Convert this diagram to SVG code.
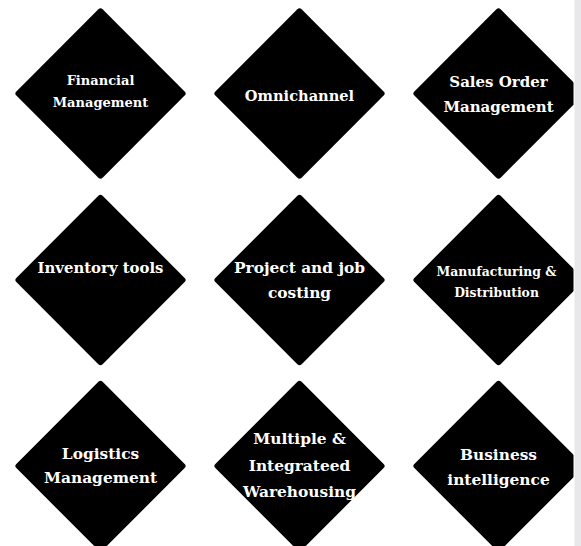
<svg xmlns="http://www.w3.org/2000/svg" width="581" height="546" viewBox="0 0 581 546">
<style>
.d{fill:#000}
.t{fill:#fff;font-family:"DejaVu Serif","Liberation Serif",serif;font-weight:bold;text-anchor:middle}
</style>
<defs>
<rect id="dia" x="-61" y="-61" width="122" height="122" rx="3" transform="rotate(45)"/>
<clipPath id="clipR"><rect x="0" y="0" width="573.5" height="546"/></clipPath>
</defs>
<rect width="581" height="546" fill="#fff"/>
<rect x="574.5" y="0" width="6.5" height="546" fill="#e8e8ea"/>
<g id="connectors"/>
<g id="n1" transform="translate(100.5,93.5)"><use href="#dia" class="d"/>
<text class="t" font-size="13"><tspan x="0" y="-8.5">Financial</tspan><tspan x="0" y="13.5">Management</tspan></text></g>
<g id="n2" transform="translate(299.5,93.5)"><use href="#dia" class="d"/>
<text class="t" font-size="14.6" x="0" y="7.2">Omnichannel</text></g>
<g id="n3" clip-path="url(#clipR)"><g transform="translate(498.5,93.5)"><use href="#dia" class="d"/>
<text class="t" font-size="15"><tspan x="0" y="-6.5">Sales Order</tspan><tspan x="0" y="18">Management</tspan></text></g></g>
<g id="n4" transform="translate(100.5,280)"><use href="#dia" class="d"/>
<text class="t" font-size="14.9" x="0" y="-6.7">Inventory tools</text></g>
<g id="n5" transform="translate(299.5,280)"><use href="#dia" class="d"/>
<text class="t" font-size="15.4"><tspan x="0" y="-6.7">Project and job</tspan><tspan x="0" y="18.3">costing</tspan></text></g>
<g id="n6" clip-path="url(#clipR)"><g transform="translate(498.5,280)"><use href="#dia" class="d"/>
<text class="t" font-size="12.4"><tspan x="-2" y="-4">Manufacturing &amp;</tspan><tspan x="-2" y="17.3">Distribution</tspan></text></g></g>
<g id="n7" transform="translate(100.5,466)"><use href="#dia" class="d"/>
<text class="t" font-size="15.4"><tspan x="0" y="-6.7">Logistics</tspan><tspan x="0" y="17.3">Management</tspan></text></g>
<g id="n8" transform="translate(299.5,466)"><use href="#dia" class="d"/>
<text class="t" font-size="15.4"><tspan x="0" y="-22">Multiple  &amp;</tspan><tspan x="0" y="4.7">Integrateed</tspan><tspan x="0" y="31.3">Warehousing</tspan></text></g>
<g id="n9" clip-path="url(#clipR)"><g transform="translate(498.5,466)"><use href="#dia" class="d"/>
<text class="t" font-size="15.4"><tspan x="0" y="-6">Business</tspan><tspan x="0" y="19">intelligence</tspan></text></g></g>
</svg>
